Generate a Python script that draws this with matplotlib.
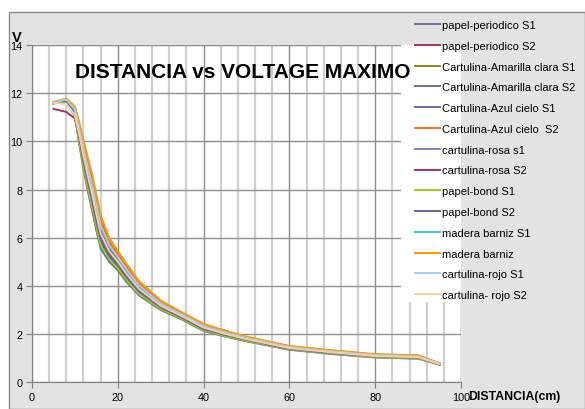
import matplotlib
matplotlib.use('Agg')
import matplotlib.pyplot as plt
from matplotlib.patches import Rectangle

plt.rcParams['font.family'] = ['Liberation Sans', 'DejaVu Sans']

# distancia (cm)
dist = [5, 8, 10, 11, 12, 13, 14, 15, 16, 18, 20, 22, 25, 30, 35, 40, 45, 50, 60, 70, 80, 90, 95]

papel_periodico_s1 = [11.57, 11.66, 11.05, 9.90, 8.85, 7.95, 7.15, 6.30, 5.55, 5.00, 4.65, 4.17, 3.60, 3.00, 2.60, 2.13, 1.90, 1.70, 1.35, 1.17, 1.03, 0.98, 0.73]
papel_periodico_s2 = [11.35, 11.22, 10.95, 10.15, 9.27, 8.44, 7.68, 6.83, 6.04, 5.35, 4.93, 4.44, 3.81, 3.22, 2.78, 2.30, 2.12, 1.82, 1.45, 1.23, 1.08, 1.03, 0.75]
amarilla_s1 = [11.61, 11.73, 11.29, 10.44, 9.57, 8.79, 8.05, 7.20, 6.39, 5.60, 5.13, 4.63, 3.96, 3.24, 2.78, 2.31, 2.04, 1.82, 1.45, 1.27, 1.13, 1.12, 0.78]
amarilla_s2 = [11.58, 11.68, 11.13, 10.08, 9.09, 8.23, 7.45, 6.60, 5.83, 5.20, 4.81, 4.32, 3.72, 3.08, 2.66, 2.19, 1.95, 1.74, 1.38, 1.20, 1.06, 1.01, 0.74]
azul_s1 = [11.62, 11.75, 11.35, 10.58, 9.75, 9.00, 8.28, 7.43, 6.60, 5.75, 5.25, 4.74, 4.05, 3.30, 2.83, 2.36, 2.08, 1.85, 1.47, 1.29, 1.14, 1.09, 0.78]
azul_s2 = [11.62, 11.76, 11.39, 10.67, 9.87, 9.14, 8.43, 7.58, 6.74, 5.85, 5.33, 4.82, 4.11, 3.34, 2.86, 2.39, 2.10, 1.87, 1.49, 1.31, 1.15, 1.10, 0.78]
rosa_s1 = [11.59, 11.71, 11.21, 10.26, 9.33, 8.51, 7.75, 6.90, 6.11, 5.40, 4.97, 4.47, 3.84, 3.16, 2.72, 2.25, 2.00, 1.78, 1.41, 1.23, 1.09, 1.04, 0.75]
rosa_s2 = [11.60, 11.72, 11.25, 10.35, 9.45, 8.65, 7.90, 7.05, 6.25, 5.50, 5.05, 4.55, 3.95, 3.28, 2.85, 2.35, 2.15, 1.85, 1.48, 1.26, 1.11, 1.06, 0.76]
bond_s1 = [11.58, 11.67, 11.09, 9.99, 8.97, 8.09, 7.30, 6.45, 5.69, 5.10, 4.73, 4.25, 3.66, 3.04, 2.63, 2.16, 1.92, 1.72, 1.37, 1.19, 1.04, 0.99, 0.74]
bond_s2 = [11.59, 11.69, 11.16, 10.15, 9.18, 8.34, 7.56, 6.71, 5.94, 5.28, 4.87, 4.38, 3.77, 3.11, 2.68, 2.21, 1.97, 1.76, 1.39, 1.21, 1.07, 1.02, 0.75]
barniz_s1 = [11.61, 11.74, 11.31, 10.49, 9.63, 8.86, 8.13, 7.28, 6.46, 5.65, 5.17, 4.66, 3.99, 3.26, 2.80, 2.33, 2.06, 1.83, 1.45, 1.27, 1.12, 1.07, 0.77]
barniz = [11.63, 11.78, 11.45, 10.80, 10.05, 9.35, 8.65, 7.80, 6.95, 6.00, 5.45, 4.93, 4.20, 3.40, 2.90, 2.43, 2.14, 1.90, 1.51, 1.33, 1.17, 1.12, 0.79]
rojo_s1 = [11.61, 11.74, 11.33, 10.53, 9.69, 8.93, 8.20, 7.35, 6.53, 5.70, 5.21, 4.70, 4.02, 3.28, 2.81, 2.34, 2.07, 1.84, 1.46, 1.28, 1.13, 1.08, 0.77]
rojo_s2 = [11.60, 11.55, 11.10, 10.30, 9.39, 8.58, 7.83, 6.98, 6.18, 5.45, 5.01, 4.51, 3.87, 3.18, 2.74, 2.27, 2.01, 1.79, 1.42, 1.24, 1.09, 1.04, 0.76]

series = [
    ('papel-periodico S1', papel_periodico_s1, '#6b6ba8'),
    ('papel-periodico S2', papel_periodico_s2, '#9c3468'),
    ('Cartulina-Amarilla clara S1', amarilla_s1, '#8a8a12'),
    ('Cartulina-Amarilla clara S2', amarilla_s2, '#6a6aa0'),
    ('Cartulina-Azul cielo S1', azul_s1, '#6c6ca6'),
    ('Cartulina-Azul cielo  S2', azul_s2, '#ff6a14'),
    ('cartulina-rosa s1', rosa_s1, '#8282bc'),
    ('cartulina-rosa S2', rosa_s2, '#a03464'),
    ('papel-bond S1', bond_s1, '#9acc10'),
    ('papel-bond S2', bond_s2, '#66669c'),
    ('madera barniz S1', barniz_s1, '#33cccc'),
    ('madera barniz', barniz, '#ff9a00'),
    ('cartulina-rojo S1', rojo_s1, '#9cccff'),
    ('cartulina- rojo S2', rojo_s2, '#ffcc9c'),
]

fig = plt.figure(figsize=(5.85, 4.10), dpi=100)
fig.patch.set_facecolor('white')
fig.patches.append(Rectangle((9 / 585, 0), 1 - 9 / 585, 1 - 13 / 410, transform=fig.transFigure,
                             facecolor='#e3e3e3', edgecolor='#8a8a8a', linewidth=1.0, zorder=-10))

ax = fig.add_axes([32 / 585, 1 - 383.3 / 410, (461 - 32) / 585, (383.3 - 46) / 410])
ax.set_facecolor('white')
ax.set_xlim(0, 100)
ax.set_ylim(0, 14)
ax.set_xticks(range(0, 101, 20))
ax.set_xticks(range(0, 101, 4), minor=True)
ax.set_yticks(range(0, 15, 2))
ax.set_axisbelow(True)
ax.grid(which='minor', axis='x', color='#cfcfcf', linewidth=1.6)
ax.grid(which='major', axis='x', color='#8e8e8e', linewidth=1.0)
ax.grid(which='major', axis='y', color='#8e8e8e', linewidth=1.0)
ax.tick_params(which='minor', length=0)
ax.tick_params(which='major', length=4, color='#808080', labelsize=7.8, pad=3)
for s in ['top', 'right']:
    ax.spines[s].set_visible(False)
for s in ['left', 'bottom']:
    ax.spines[s].set_color('#808080')

# area under the legend hides the grid
ax.add_patch(Rectangle((86.1, 3.35), 14, 11, facecolor='white', edgecolor='none', zorder=1))

for name, vals, col in series:
    ax.plot(dist, vals, color=col, linewidth=1.4, label=name, zorder=2)

fig.legend(loc='upper left', bbox_to_anchor=(415 / 585, 1 - 21 / 410), frameon=False,
           fontsize=8, labelspacing=0.97, handlelength=2.25, handletextpad=0.15,
           borderpad=0, borderaxespad=0)

fig.text(243 / 585, 1 - 73 / 410, 'DISTANCIA vs VOLTAGE MAXIMO', ha='center', va='center',
         fontsize=15, fontweight='bold')
fig.text(12 / 585, 1 - 38 / 410, 'V', ha='left', va='center', fontsize=10.5, fontweight='bold')
fig.text(468 / 585, 1 - 397 / 410, 'DISTANCIA(cm)', ha='left', va='center', fontsize=8.8,
         fontweight='bold')

fig.savefig('out.png', dpi=100)
